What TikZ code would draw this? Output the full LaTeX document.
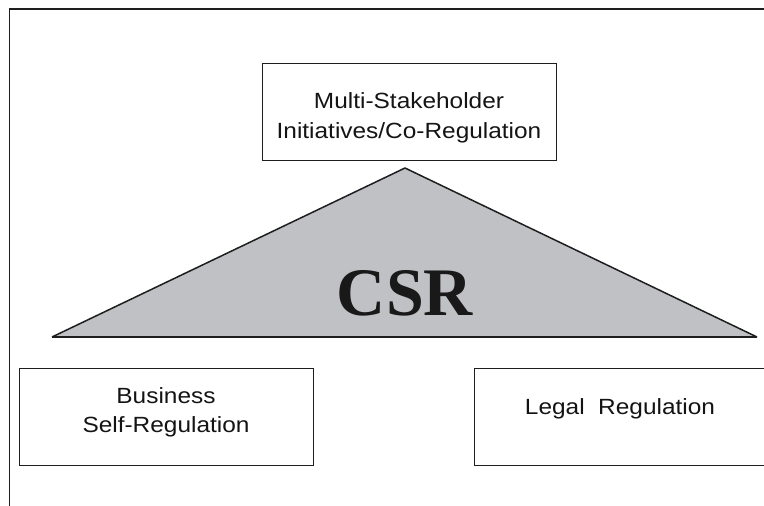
\documentclass[tikz,border=0pt]{standalone}
\usepackage{fontspec}
\setmainfont{Liberation Sans}
\newfontfamily\boxfont[FakeStretch=1.11]{Liberation Sans}
\newfontfamily\csrfont{Liberation Serif}
\definecolor{trigray}{RGB}{192,193,197}
\definecolor{linedark}{RGB}{30,30,30}
\begin{document}
\begin{tikzpicture}[x=1pt,y=-1pt,
  regbox/.style={draw=linedark,line width=1pt,minimum width=294pt,minimum height=97pt,inner sep=0pt},
  boxtext/.style={inner sep=0pt,align=center,anchor=base,text=black!92,font=\boxfont\fontsize{22}{30}\selectfont},
  frameline/.style={draw=linedark,line width=1.6pt}]
\useasboundingbox (0,0) rectangle (764,506);
% frame
\coordinate (ftl) at (9.5,9);
\coordinate (ftr) at (770,9);
\coordinate (fbl) at (9.5,510);
\draw[frameline] (fbl) -- (ftl) -- (ftr);
% triangle
\coordinate (apex) at (405,168);
\coordinate (bl) at (52,337);
\coordinate (br) at (757,337);
\fill[trigray] (apex) -- (br) -- (bl) -- cycle;
\draw[linedark,line width=1.5pt,line join=miter] (bl) -- (apex) -- (br);
\draw[linedark,line width=2.4pt] (bl) -- (br);
\node[font=\csrfont\bfseries\fontsize{68}{68}\selectfont,text=black!90,anchor=base,inner sep=0pt] (csr) at (405,315) {CSR};
% boxes
\node[regbox] (msi) at (409,111.5) {};
\node[regbox] (bsr) at (166,416.5) {};
\node[regbox] (leg) at (621,416.5) {};
\node[boxtext] (msit) at (409,138) {Multi-Stakeholder\\Initiatives/Co-Regulation};
\node[boxtext,font=\boxfont\fontsize{22}{28.5}\selectfont] (bsrt) at (166,432) {Business\\Self-Regulation};
\node[boxtext] (legt) at (620,414) {Legal\ \ Regulation};
\end{tikzpicture}
\end{document}
